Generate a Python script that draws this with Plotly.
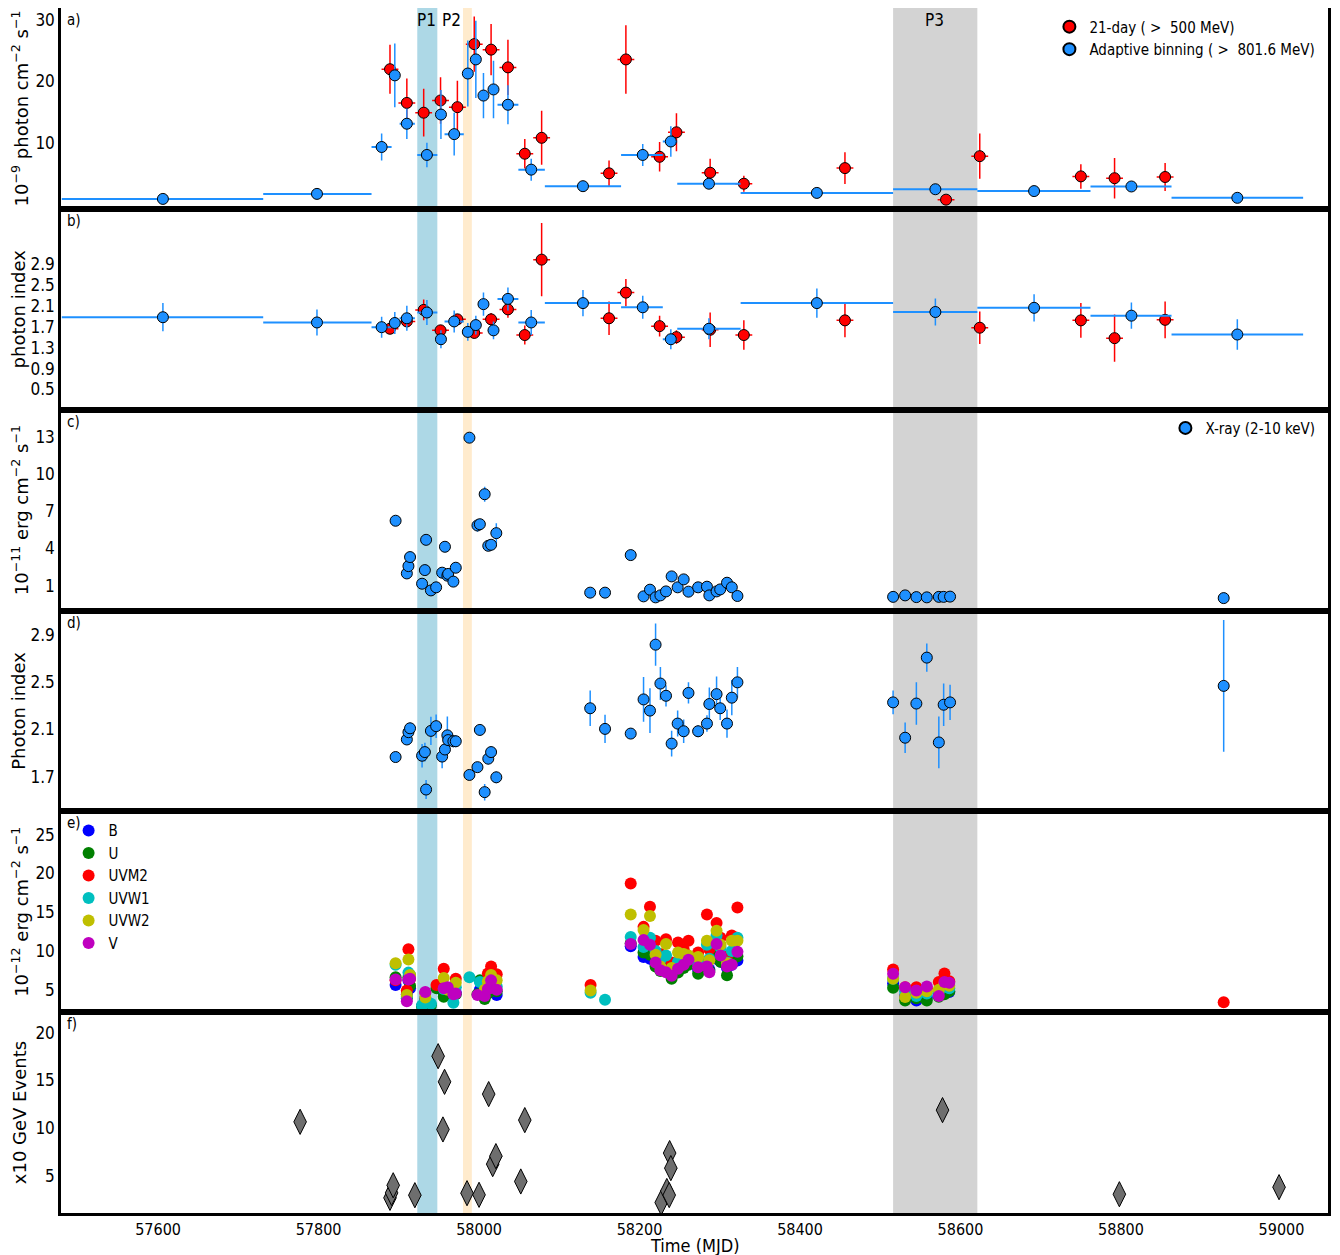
import plotly.graph_objects as go
from plotly.subplots import make_subplots

# ---------------- DATA ----------------
# Fermi-LAT 21-day bins (> 500 MeV)
red_t = [57889, 57910, 57931, 57952, 57973, 57994, 58015, 58036, 58057, 58078,
         58162, 58183, 58225, 58246, 58288, 58330, 58456, 58582, 58624, 58750, 58792, 58855]
red_flux = [22.0, 16.5, 14.9, 16.9, 15.8, 26.1, 25.2, 22.3, 8.2, 10.8,
            5.0, 23.6, 7.7, 11.7, 5.1, 3.3, 5.85, 0.7, 7.8, 4.5, 4.2, 4.4]
red_flux_err = [4.0, 4.0, 3.9, 3.8, 4.3, 4.5, 4.2, 4.5, 2.4, 4.4,
                2.1, 5.6, 2.4, 3.1, 2.3, 1.3, 2.6, 0.5, 3.7, 2.0, 3.3, 2.3]
red_index = [1.66, 1.80, 2.02, 1.63, 1.84, 1.58, 1.84, 2.03, 1.54, 2.98,
             1.86, 2.35, 1.71, 1.50, 1.64, 1.54, 1.82, None, 1.68, 1.82, 1.48, 1.83]
red_index_err = [0.10, 0.12, 0.20, 0.10, 0.08, 0.10, 0.12, 0.16, 0.18, 0.70,
                 0.32, 0.26, 0.20, 0.13, 0.33, 0.28, 0.32, None, 0.31, 0.33, 0.45, 0.35]
red_half_bin = 10.5

# Adaptive binning (> 801.6 MeV)
ab_t = [57606, 57798, 57878.6, 57895, 57910, 57935, 57952.5, 57969, 57986, 57996,
        58005.5, 58018, 58036, 58065, 58129.5, 58204, 58239, 58286.5, 58421, 58568.7,
        58691.7, 58813, 58945]
ab_start = [57480, 57731, 57866, 57891, 57901, 57923, 57948, 57957, 57981, 57992,
            58000, 58011, 58023, 58049, 58082, 58177, 58229, 58247, 58326, 58516,
            58621, 58762, 58863]
ab_stop = [57731, 57866, 57891, 57901, 57920, 57948, 57957, 57981, 57992, 58000,
           58011, 58023, 58049, 58082, 58177, 58229, 58247, 58326, 58516, 58621,
           58762, 58863, 59027]
ab_flux = [0.82, 1.64, 9.3, 21.0, 13.1, 8.0, 14.6, 11.4, 21.3, 23.6,
           17.7, 18.7, 16.2, 5.6, 2.9, 8.0, 10.2, 3.3, 1.8, 2.4,
           2.1, 2.85, 1.0]
ab_flux_err = [0.3, 0.3, 2.2, 5.2, 2.5, 2.0, 4.0, 3.5, 5.4, 6.3,
               3.7, 4.7, 3.2, 1.8, 0.3, 1.8, 2.5, 0.4, 0.3, 0.3,
               0.3, 0.4, 0.3]
ab_index = [1.88, 1.78, 1.69, 1.77, 1.86, 1.97, 1.46, 1.80, 1.60, 1.73,
            2.13, 1.63, 2.23, 1.78, 2.15, 2.07, 1.46, 1.66, 2.15, 1.98,
            2.06, 1.91, 1.55]
ab_index_err = [0.27, 0.25, 0.20, 0.21, 0.24, 0.24, 0.17, 0.21, 0.17, 0.18,
                0.22, 0.17, 0.22, 0.24, 0.25, 0.22, 0.19, 0.20, 0.28, 0.26,
                0.26, 0.25, 0.29]

# Swift-XRT (2-10 keV)
xr_t = [57896, 57910, 57912, 57914, 57929, 57932.5, 57934, 57940, 57946.5, 57954,
        57957.5, 57960.5, 57961.5, 57968, 57971, 57988, 57998, 58001, 58007, 58011.5,
        58015, 58021.5,
        58138.5, 58157, 58189, 58205, 58213, 58220, 58226, 58233, 58240, 58247.5,
        58255, 58261, 58273, 58284, 58287, 58296, 58300.5, 58309, 58315, 58322,
        58516, 58531, 58545, 58558, 58573, 58579, 58587, 58928]
xr_flux = [6.24, 1.99, 2.58, 3.31, 1.16, 2.26, 4.7, 0.62, 0.87, 2.05,
           4.14, 1.81, 1.95, 1.33, 2.45, 12.94, 5.86, 5.96, 8.38, 4.22,
           4.3, 5.24,
           0.44, 0.44, 3.47, 0.14, 0.68, 0.06, 0.22, 0.54, 1.75, 0.87,
           1.51, 0.52, 0.87, 0.92, 0.22, 0.54, 0.70, 1.24, 0.87, 0.17,
           0.10, 0.22, 0.08, 0.06, 0.10, 0.10, 0.12, 0.0]
xr_flux_err = [0.2, 0.15, 0.2, 0.2, 0.15, 0.2, 0.25, 0.1, 0.1, 0.2,
               0.25, 0.3, 0.2, 0.15, 0.2, 0.35, 0.5, 0.4, 0.6, 0.3,
               0.3, 0.8,
               0.1, 0.1, 0.2, 0.05, 0.1, 0.05, 0.05, 0.1, 0.15, 0.1,
               0.1, 0.1, 0.1, 0.1, 0.05, 0.1, 0.1, 0.15, 0.1, 0.05,
               0.03, 0.04, 0.03, 0.03, 0.03, 0.03, 0.03, 0.03]
xr_index = [1.866, 2.015, 2.077, 2.11, 1.877, 1.908, 1.59, 2.088, 2.128, 1.87,
            1.93, 2.05, 2.01, 2.0, 2.0, 1.714, 1.78, 2.096, 1.568, 1.852,
            1.908, 1.694,
            2.28, 2.105, 2.065, 2.355, 2.26, 2.82, 2.49, 2.386, 1.98, 2.15,
            2.085, 2.41, 2.085, 2.15, 2.316, 2.4, 2.28, 2.15, 2.37, 2.5,
            2.33, 2.03, 2.32, 2.71, 1.99, 2.31, 2.33, 2.47]
xr_index_err = [0.03, 0.04, 0.04, 0.05, 0.10, 0.08, 0.08, 0.12, 0.10, 0.10,
                0.08, 0.16, 0.05, 0.05, 0.05, 0.03, 0.04, 0.05, 0.07, 0.05,
                0.05, 0.05,
                0.15, 0.12, 0.03, 0.19, 0.19, 0.18, 0.14, 0.09, 0.11, 0.11,
                0.10, 0.09, 0.05, 0.07, 0.14, 0.15, 0.10, 0.12, 0.15, 0.13,
                0.10, 0.13, 0.18, 0.12, 0.22, 0.18, 0.15, 0.56]

# Swift-UVOT (10^-12 erg cm^-2 s^-1)
uv_t = [57896, 57910, 57912, 57914, 57929, 57933, 57940, 57947, 57956, 57961,
        57968, 57971, 57988, 57998, 58001, 58007, 58011, 58015, 58022,
        58139, 58157, 58189, 58205, 58213, 58220, 58226, 58233, 58240, 58248,
        58255, 58261, 58273, 58284, 58287, 58296, 58301, 58309, 58315, 58322,
        58516, 58531, 58545, 58558, 58573, 58580, 58586, 58928]
uv_B = [5.6, 4.4, 6.2, 5.2, 2.9, 3.9, None, None, 4.5, 4.6,
        4.4, 4.6, None, None, 5.0, None, 4.8, 5.6, 4.3,
        None, None, 10.6, 9.2, 9.0, 8.2, 7.8, 8.0, 6.8, 7.5,
        8.2, 8.4, 7.6, 8.4, 7.6, 9.0, 8.6, 7.8, 8.2, 8.75,
        5.8, 4.2, 3.6, 4.0, 4.3, 4.9, 4.7, None]
uv_U = [6.6, 3.9, 6.6, 5.5, 2.8, 3.5, 3.0, 5.2, 4.1, 4.3,
        None, 4.4, None, 4.4, 6.2, 3.8, 4.5, 5.2, 4.8,
        None, None, 11.0, 9.8, 9.5, 8.0, 7.4, 7.6, 6.4, 7.2,
        7.8, 8.2, 7.05, 8.4, 7.4, 9.6, 8.6, 6.85, 8.6, 9.3,
        5.25, 3.6, 3.9, 3.6, 4.1, 4.4, 4.8, None]
uv_UVM2 = [6.2, 4.9, 10.2, 6.4, None, 4.6, None, 5.6, 7.7, None,
           None, 6.4, None, None, None, 5.9, 7.1, 8.0, 7.0,
           5.6, None, 18.7, 13.1, 15.7, 11.3, 9.6, 11.5, 8.5, 11.1,
           10.2, 11.3, 9.8, 14.7, 10.2, 13.6, 11.7, 9.3, 12.0, 15.6,
           7.6, 5.3, 5.3, 5.2, 6.0, 7.1, 6.1, 3.37]
uv_UVW1 = [8.2, 4.1, 7.2, 6.9, 3.0, 3.3, 3.2, None, 5.1, None,
           3.3, 5.3, 6.6, None, 6.0, None, 5.5, 6.5, 5.4,
           4.6, 3.7, 11.8, 10.5, 11.7, 10.0, 8.9, 9.4, 7.5, 8.6,
           9.0, 9.2, 8.4, 10.8, 9.0, 12.0, 10.4, 8.5, 10.0, 11.7,
           6.4, 4.8, 4.2, 4.5, 4.8, 5.4, 5.2, None]
uv_UVW2 = [8.4, 4.3, 8.9, 6.9, None, 4.0, None, None, 6.5, 5.0,
           None, 5.9, None, None, None, 5.0, 6.1, 6.9, 6.2,
           4.9, None, 14.7, 12.7, 14.5, 9.5, 8.0, 10.9, 7.8, 9.8,
           9.6, 9.4, 9.2, 11.3, 8.8, 12.6, 10.8, 8.4, 11.3, 11.3,
           6.4, 4.05, 4.6, 4.8, 5.0, 5.8, 5.5, None]
uv_V = [6.3, 3.5, 6.3, 6.4, None, 4.7, None, None, 5.2, 5.3,
        4.4, 4.5, None, 4.3, None, 4.2, 5.1, 6.2, 5.0,
        None, None, 10.9, 11.4, 10.8, 8.5, 7.5, 7.25, 6.8, 7.7,
        8.2, 8.85, 7.9, 8.0, 7.25, 10.9, 9.4, 8.0, 8.2, 9.9,
        7.05, 5.3, 4.9, 5.4, 4.2, 6.0, 5.9, None]
uv_filters = ["B", "U", "UVM2", "UVW1", "UVW2", "V"]

# > 10 GeV events
ev_t = [57777, 57889, 57891, 57893, 57920, 57949, 57955, 57957, 57985, 58000,
        58012, 58017, 58021, 58052, 58057, 58227, 58234, 58237, 58237.5, 58239,
        58577.6, 58798, 58997]
ev_e = [10.66, 2.68, 3.2, 4.0, 2.96, 17.55, 9.86, 14.86, 3.17, 3.0,
        13.57, 6.22, 7.06, 4.4, 10.84, 2.19, 3.4, 2.97, 7.38, 5.8,
        11.89, 3.06, 3.8]

# Periods
periods = [("P1", 57923, 57948, "#ADD8E6"), ("P2", 57980, 57991, "#FFEBCD"), ("P3", 58516, 58621, "#D3D3D3")]
period_label_x = [57935, 57966, 58568]

x_ticks = [57600, 57800, 58000, 58200, 58400, 58600, 58800, 59000]

# ---------------- FIGURE ----------------
COND = "DejaVu Sans Condensed, Liberation Sans Narrow, DejaVu Sans"
RED = "#FF0000"
BLUE = "#1E90FF"
uv_colors = {"B": "#0000FF", "U": "#008000", "UVM2": "#FF0000",
             "UVW1": "#00BFBF", "UVW2": "#BFBF00", "V": "#BF00BF"}
uv_err = {"B": 0.25, "U": 0.25, "UVM2": 0.5, "UVW1": 0.25, "UVW2": 0.3, "V": 0.3}
uv_data = {"B": uv_B, "U": uv_U, "UVM2": uv_UVM2, "UVW1": uv_UVW1, "UVW2": uv_UVW2, "V": uv_V}

fig = make_subplots(rows=6, cols=1, shared_xaxes=True, vertical_spacing=0)

mk_edge = dict(color="black", width=1)
ab_plus = [b - a for a, b in zip(ab_t, ab_stop)]
ab_minus = [a - s for a, s in zip(ab_t, ab_start)]

# Panel a
fig.add_trace(go.Scatter(x=red_t, y=red_flux, mode="markers", name="21-day ( >\u00a0 500 MeV)",
                         marker=dict(color=RED, size=11, line=mk_edge),
                         error_y=dict(type="data", array=red_flux_err, color=RED, thickness=1.5, width=0),
                         error_x=dict(type="constant", value=red_half_bin, color=RED, thickness=1.5, width=0),
                         legend="legend"), row=1, col=1)
fig.add_trace(go.Scatter(x=ab_t, y=ab_flux, mode="markers", name="Adaptive binning ( >\u00a0 801.6 MeV)",
                         marker=dict(color=BLUE, size=11, line=mk_edge),
                         error_y=dict(type="data", array=ab_flux_err, color=BLUE, thickness=1.5, width=0),
                         error_x=dict(type="data", array=ab_plus, arrayminus=ab_minus, color=BLUE, thickness=2, width=0),
                         legend="legend"), row=1, col=1)
# Panel b
fig.add_trace(go.Scatter(x=red_t, y=red_index, mode="markers", showlegend=False,
                         marker=dict(color=RED, size=11, line=mk_edge),
                         error_y=dict(type="data", array=red_index_err, color=RED, thickness=1.5, width=0),
                         error_x=dict(type="constant", value=red_half_bin, color=RED, thickness=1.5, width=0)),
              row=2, col=1)
fig.add_trace(go.Scatter(x=ab_t, y=ab_index, mode="markers", showlegend=False,
                         marker=dict(color=BLUE, size=11, line=mk_edge),
                         error_y=dict(type="data", array=ab_index_err, color=BLUE, thickness=1.5, width=0),
                         error_x=dict(type="data", array=ab_plus, arrayminus=ab_minus, color=BLUE, thickness=2, width=0)),
              row=2, col=1)
# Panel c
fig.add_trace(go.Scatter(x=xr_t, y=xr_flux, mode="markers", name="X-ray (2-10 keV)",
                         marker=dict(color=BLUE, size=11, line=mk_edge),
                         error_y=dict(type="data", array=xr_flux_err, color=BLUE, thickness=1.5, width=0),
                         legend="legend2"), row=3, col=1)
# Panel d
fig.add_trace(go.Scatter(x=xr_t, y=xr_index, mode="markers", showlegend=False,
                         marker=dict(color=BLUE, size=11, line=mk_edge),
                         error_y=dict(type="data", array=xr_index_err, color=BLUE, thickness=1.5, width=0)),
              row=4, col=1)
# Panel e
for f in uv_filters:
    fig.add_trace(go.Scatter(x=uv_t, y=uv_data[f], mode="markers", name=f,
                             marker=dict(color=uv_colors[f], size=12),
                             error_y=dict(type="constant", value=uv_err[f], color=uv_colors[f], thickness=1, width=0),
                             legend="legend3"), row=5, col=1)
# Panel f
fig.add_trace(go.Scatter(x=ev_t, y=ev_e, mode="markers", showlegend=False,
                         marker=dict(symbol="diamond-tall", color="#6E6E6E", size=18, line=mk_edge)),
              row=6, col=1)

# Period bands
for name, x0, x1, col in periods:
    fig.add_shape(type="rect", xref="x", yref="paper", x0=x0, x1=x1, y0=0, y1=1,
                  fillcolor=col, line_width=0, layer="below")
for (name, _, _, _), xl in zip(periods, period_label_x):
    fig.add_annotation(x=xl, y=30, xref="x", yref="y", text=name, showarrow=False,
                       font=dict(size=17, family=COND, color="black"))

# Panel labels
for i, lab in enumerate(["a)", "b)", "c)", "d)", "e)", "f)"], start=1):
    s = "" if i == 1 else str(i)
    fig.add_annotation(x=0.003, y=0.995, xref=f"x{s} domain", yref=f"y{s} domain", text=lab,
                       showarrow=False, xanchor="left", yanchor="top",
                       font=dict(size=15, family=COND, color="black"))

# x-axis title as annotation for exact placement
fig.add_annotation(x=0.5, y=0, xref="paper", yref="paper", text="Time (MJD)", showarrow=False,
                   xanchor="center", yanchor="top", yshift=-20,
                   font=dict(size=18, family=COND, color="black"))

axis_common = dict(showline=True, mirror=True, linewidth=2.5, linecolor="black",
                   showgrid=False, zeroline=False, ticks="", automargin=False,
                   tickfont=dict(size=17, family=COND, color="black"))
fig.update_xaxes(**axis_common, range=[57479, 59058], tickvals=x_ticks, tickformat="d")
fig.update_xaxes(tickfont=dict(size=16, family=COND, color="black"))

ytitle_font = dict(size=18, family="DejaVu Sans", color="black")
ycfg = [
    ([-0.8, 32], [10, 20, 30], "10<sup>\u22129</sup> photon cm<sup>\u22122</sup> s<sup>\u22121</sup>"),
    ([0.115, 3.95], [0.5, 0.9, 1.3, 1.7, 2.1, 2.5, 2.9], "photon index"),
    ([-1.0, 15.2], [1, 4, 7, 10, 13], "10<sup>\u221211</sup> erg cm<sup>\u22122</sup> s<sup>\u22121</sup>"),
    ([1.405, 3.11], [1.7, 2.1, 2.5, 2.9], "Photon index"),
    ([2.1, 28.0], [5, 10, 15, 20, 25], "10<sup>\u221212</sup> erg cm<sup>\u22122</sup> s<sup>\u22121</sup>"),
    ([1.09, 22.17], [5, 10, 15, 20], "x10 GeV Events"),
]
for i, (rng, tv, title) in enumerate(ycfg, start=1):
    fig.update_yaxes(**axis_common, range=rng, tickvals=tv,
                     title=dict(text=title, font=ytitle_font, standoff=5), row=i, col=1)

leg_common = dict(bgcolor="rgba(0,0,0,0)", borderwidth=0, font=dict(size=15, family=COND, color="black"),
                  itemsizing="constant")
# The page body adds an 8 px offset; sizes/margins compensate so the plot area
# lands at x 61..1328, y ~8..1213 in the 1340x1255 window.
fig.update_layout(
    width=1332, height=1247,
    margin=dict(l=53, r=12, t=0, b=42),
    paper_bgcolor="white", plot_bgcolor="white",
    legend=dict(x=0.994, y=0.998, xanchor="right", yanchor="top", **leg_common),
    legend2=dict(x=0.994, y=0.665, xanchor="right", yanchor="top", **leg_common),
    legend3=dict(x=0.006, y=0.331, xanchor="left", yanchor="top", tracegroupgap=0, **leg_common),
)

fig.write_html("out.html")
